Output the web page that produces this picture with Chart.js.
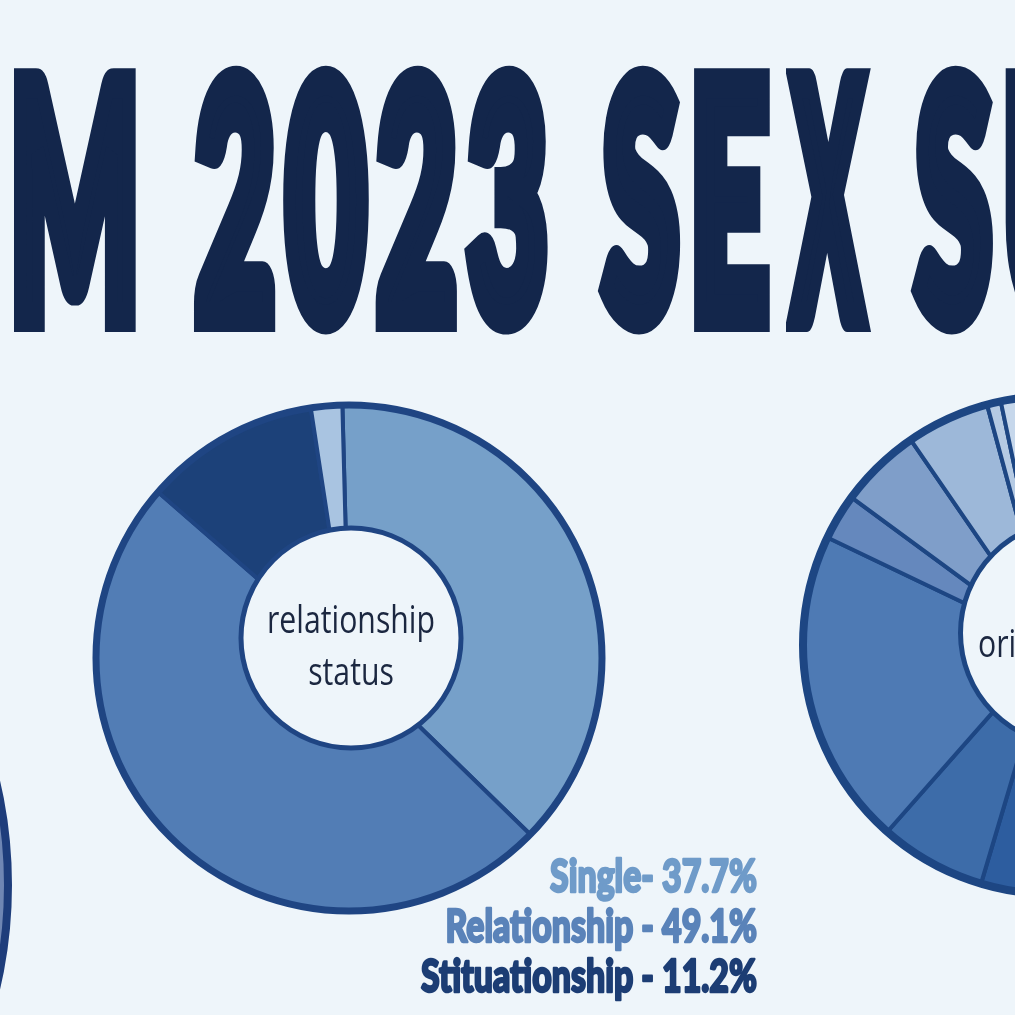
<!DOCTYPE html>
<html><head><meta charset="utf-8">
<script src="https://cdn.jsdelivr.net/npm/chart.js@4.4.0/dist/chart.umd.min.js"></script>
<style>
html,body{margin:0;padding:0;background:#eef5fa;width:1015px;height:1015px;overflow:hidden;position:relative;}
#title{position:absolute;left:10px;top:32px;white-space:nowrap;transform-origin:0 0;transform:scaleX(0.423);
 font-family:Lato,sans-serif;font-weight:900;font-size:322px;line-height:1;letter-spacing:28px;
 color:#13264b;-webkit-text-stroke:30px #13264b;}
#title .nx{display:inline-block;transform:scaleX(0.75);transform-origin:0 0;margin-left:30px;margin-right:-60px;}
.c{position:absolute;}
</style></head><body>
<div id="title">M 2023 SE<span class="nx">X</span> SURVEY</div>
<div class="c" style="left:0;top:0;width:1015px;height:1015px"><canvas id="c1" width="1015" height="1015"></canvas></div>
<div class="c" style="left:782px;top:375px;width:540px;height:540px"><canvas id="c2" width="540" height="540"></canvas></div>
<div class="c" style="left:-920px;top:415px;width:940px;height:940px"><canvas id="c3" width="940" height="940"></canvas></div>
<script>
// ---- Data: relationship status ----
const relLabels = ['Single', 'Relationship', 'Stituationship', 'Other'];
const relValues = [37.7, 49.1, 11.2, 2.0];
const relSeparators = ['-', ' -', ' -'];
const relCenterText = ['relationship', 'status'];

// ---- Data: orientation (partially visible, cropped) ----
const oriLabels = ['orientation 1', 'orientation 2', 'orientation 3', 'orientation 4', 'orientation 5',
                   'orientation 6', 'orientation 7', 'orientation 8', 'orientation 9'];
const oriValues = [30.0, 24.6, 6.9, 20.6, 3.0, 5.3, 5.4, 0.9, 3.3];
const oriCenterText = ['orientation'];

// ---- Data: third chart (only its edge is visible) ----
const thirdLabels = ['cropped'];
const thirdValues = [100];

// ---- styles ----
const BG = '#eef5fa';
const relColors = ['#76a0c9', '#527db5', '#1c4179', '#a9c4e1'];
const relTextColors = ['#6f9bc9', '#5a83b9', '#1c3d74'];
const oriColors = ['#1f4f92', '#2d5d9f', '#3d6ca9', '#4e7ab4', '#6588bd', '#7f9ec9', '#9db8d9', '#b5cae3', '#c6d7eb'];

const ringPlugin = {
  id: 'ring',
  afterDatasetsDraw(chart, args, o) {
    const arc = chart.getDatasetMeta(0).data[0];
    const x = arc.x, y = arc.y, R = arc.outerRadius;
    const ctx = chart.ctx;
    ctx.save();
    ctx.beginPath(); ctx.arc(x, y, R, 0, Math.PI * 2);
    ctx.lineWidth = o.ringWidth; ctx.strokeStyle = o.color; ctx.stroke();
    if (o.hole) {
      const hx = x + o.hole.dx, hy = y + o.hole.dy;
      ctx.beginPath(); ctx.arc(hx, hy, o.hole.r, 0, Math.PI * 2);
      ctx.fillStyle = BG; ctx.fill();
      ctx.lineWidth = o.hole.width; ctx.strokeStyle = o.color; ctx.stroke();
      const t = o.hole.text;
      ctx.font = t.font; ctx.fillStyle = t.color; ctx.textBaseline = 'alphabetic';
      const sx = t.targetWidth / ctx.measureText(t.ref).width;
      t.lines.forEach((line, i) => {
        ctx.save();
        ctx.translate(hx + t.dx, hy + t.baseline + i * t.lineHeight);
        ctx.scale(sx, 1);
        ctx.textAlign = t.align;
        ctx.fillText(line, 0, 0);
        ctx.restore();
      });
    }
    ctx.restore();
  }
};

const legendPlugin = {
  id: 'textLegend',
  afterDraw(chart, args, o) {
    const ctx = chart.ctx;
    const ds = chart.data.datasets[0];
    ctx.save();
    ctx.font = o.font;
    const lines = o.count.map((_, i) => chart.data.labels[i] + relSeparators[i] + ' ' + ds.data[i].toFixed(1) + '%');
    const widest = Math.max(...lines.map(l => ctx.measureText(l).width));
    const sx = o.targetWidth / widest;
    lines.forEach((l, i) => {
      ctx.save();
      ctx.translate(o.right, o.top + i * o.lineHeight);
      ctx.scale(sx, 1);
      ctx.textAlign = 'right';
      ctx.fillStyle = relTextColors[i];
      ctx.strokeStyle = relTextColors[i];
      ctx.lineWidth = o.stroke;
      ctx.lineJoin = 'round';
      ctx.strokeText(l, 0, 0);
      ctx.fillText(l, 0, 0);
      ctx.restore();
    });
    ctx.restore();
  }
};

const common = {
  responsive: false, animation: false, devicePixelRatio: 1,
  events: [],
};

new Chart(document.getElementById('c1'), {
  type: 'doughnut',
  data: { labels: relLabels, datasets: [{ data: relValues, backgroundColor: relColors, borderColor: '#1f4583', borderWidth: 4 }] },
  options: Object.assign({}, common, {
    radius: 253, cutout: 40, rotation: -1.5,
    layout: { padding: { left: 93, right: 410, top: 402, bottom: 101 } },
    plugins: {
      legend: { display: false }, tooltip: { enabled: false },
      ring: { ringWidth: 7, color: '#1f4583',
        hole: { dx: 2, dy: -20, r: 110, width: 5,
          text: { lines: relCenterText, ref: 'relationship', targetWidth: 168, font: '400 38px "Open Sans"', color: '#1b2740',
                  dx: 0, baseline: -5, lineHeight: 52, align: 'center' } } },
      textLegend: { count: [0, 1, 2], font: '900 45px Lato', targetWidth: 336, right: 757, top: 892, lineHeight: 50, stroke: 2.5 }
    }
  }),
  plugins: [ringPlugin, legendPlugin]
});

new Chart(document.getElementById('c2'), {
  type: 'doughnut',
  data: { labels: oriLabels, datasets: [{ data: oriValues, backgroundColor: oriColors, borderColor: '#1d4683', borderWidth: 4 }] },
  options: Object.assign({}, common, {
    radius: 249, cutout: 40,
    plugins: {
      legend: { display: false }, tooltip: { enabled: false },
      ring: { ringWidth: 8, color: '#1d4683',
        hole: { dx: 21, dy: -12, r: 112.5, width: 5,
          text: { lines: oriCenterText, ref: 'relationship', targetWidth: 168, font: '400 38px "Open Sans"', color: '#1b2740',
                  dx: -95, baseline: 24, lineHeight: 52, align: 'left' } } }
    }
  }),
  plugins: [ringPlugin]
});

new Chart(document.getElementById('c3'), {
  type: 'doughnut',
  data: { labels: thirdLabels, datasets: [{ data: thirdValues, backgroundColor: ['#6f86b3'], borderColor: '#1e3d7b', borderWidth: 4 }] },
  options: Object.assign({}, common, {
    radius: 458, cutout: '50%',
    plugins: { legend: { display: false }, tooltip: { enabled: false }, ring: { ringWidth: 8, color: '#1e3d7b' } }
  }),
  plugins: [ringPlugin]
});
</script>
</body></html>
